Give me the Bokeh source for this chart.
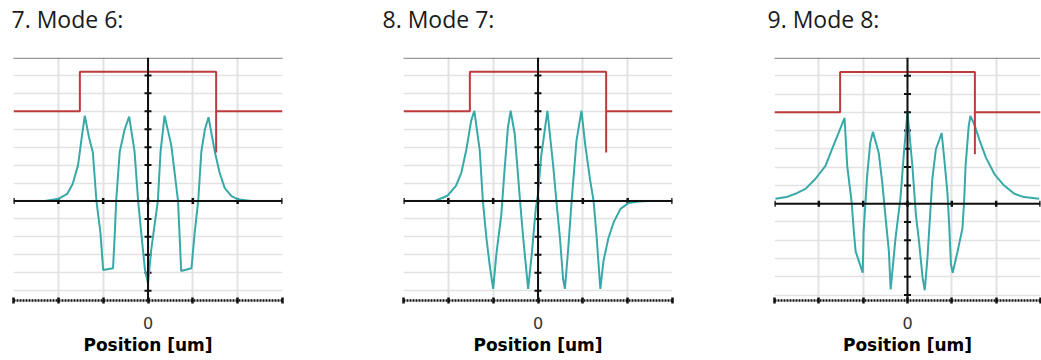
import math

from bokeh.embed import file_html
from bokeh.layouts import row
from bokeh.models import CustomJSTickFormatter, FixedTicker, Span, Title
from bokeh.plotting import figure
from bokeh.resources import INLINE

# ---- chart data -----------------------------------------------------------
titles = ["7. Mode 6:", "8. Mode 7:", "9. Mode 8:"]
x_label = "Position [um]"
x_ticks = [-3, -2, -1, 0, 1, 2, 3]
y_ticks = [-5, -4, -3, -2, -1, 0, 1, 2, 3, 4, 5, 6, 7]
top_level = 8

# refractive-index step profile of the guide (red trace)
index_x = [-3.0, -1.52, -1.52, 1.52, 1.52, 1.52, 3.0]
index_y = [5.0, 5.0, 7.2, 7.2, 2.7, 5.0, 5.0]

# mode field profiles (cyan traces)
mode6_x = [-3.0, -2.3, -2.0, -1.8, -1.68, -1.56, -1.48, -1.41, -1.32, -1.23, -1.15,
           -1.06, -1.0, -0.78, -0.74, -0.71, -0.63, -0.52, -0.42, -0.30, -0.22, -0.15,
           -0.07, 0.0, 0.07, 0.22, 0.28, 0.37, 0.52, 0.67, 0.74, 0.97, 1.04, 1.12,
           1.19, 1.27, 1.35, 1.49, 1.6, 1.71, 1.86, 2.0, 2.3, 3.0]
mode6_y = [0.0, 0.0, 0.12, 0.4, 0.95, 2.0, 3.5, 4.75, 3.6, 2.7, 0.0,
           -1.8, -3.85, -3.75, -1.8, 0.0, 2.75, 4.0, 4.7, 2.75, 0.0, -1.8,
           -3.8, -4.6, -2.75, 0.0, 2.75, 4.76, 3.1, 0.0, -3.9, -3.75, -1.8, 0.0,
           2.75, 4.0, 4.67, 2.75, 1.56, 0.73, 0.27, 0.1, 0.0, 0.0]

mode7_x = [-3.0, -2.3, -2.02, -1.83, -1.71, -1.6, -1.49, -1.42, -1.30, -1.23, -1.15,
           -1.08, -1.0, -0.93, -0.82, -0.74, -0.67, -0.61, -0.52, -0.40, -0.33, -0.22,
           -0.14, -0.05, 0.0, 0.07, 0.21, 0.34, 0.41, 0.49, 0.56, 0.6, 0.67, 0.75,
           0.86, 0.97, 1.05, 1.16, 1.24, 1.31, 1.39, 1.46, 1.57, 1.69, 1.84, 2.02,
           2.25, 2.47, 3.0]
mode7_y = [0.0, 0.0, 0.29, 0.84, 1.57, 2.84, 4.48, 5.03, 2.84, 0.0, -2.08,
           -3.53, -4.9, -2.99, -0.8, 1.93, 4.11, 5.03, 3.75, 0.0, -2.08, -4.9,
           -2.99, -0.44, 0.4, 2.48, 5.03, 1.93, 0.0, -2.08, -4.35, -4.9, -2.8, 0.0,
           3.39, 5.03, 3.2, 1.2, 0.0, -2.08, -4.9, -3.35, -2.08, -1.17, -0.44, -0.11,
           -0.03, 0.0, 0.0]

mode8_x = [-2.98, -2.73, -2.53, -2.3, -2.08, -1.85, -1.7, -1.55, -1.42, -1.36, -1.26,
           -1.21, -1.17, -1.01, -0.99, -0.91, -0.84, -0.78, -0.65, -0.57, -0.5, -0.42,
           -0.38, -0.27, -0.16, -0.08, 0.0, 0.11, 0.19, 0.26, 0.34, 0.39, 0.45, 0.51,
           0.56, 0.64, 0.72, 0.77, 0.83, 0.9, 0.94, 0.98, 1.02, 1.13, 1.24, 1.28,
           1.31, 1.38, 1.42, 1.51, 1.62, 1.77, 1.96, 2.18, 2.41, 2.63, 2.97]
mode8_y = [0.27, 0.36, 0.54, 0.81, 1.35, 2.07, 3.0, 3.9, 4.69, 2.07, 0.09,
           -1.53, -2.61, -3.78, -1.53, 1.53, 3.33, 3.93, 2.79, 1.17, -0.63, -2.61,
           -4.69, -1.89, 0.27, 2.79, 5.0, 2.07, -0.63, -2.07, -4.05, -4.74, -2.97, -0.63,
           1.35, 2.97, 3.51, 3.87, 2.43, 0.63, -1.17, -3.33, -3.78, -2.61, -1.35, 0.27,
           2.07, 4.23, 4.81, 4.32, 3.51, 2.52, 1.62, 0.99, 0.54, 0.36, 0.27]

modes_x = [mode6_x, mode7_x, mode8_x]
modes_y = [mode6_y, mode7_y, mode8_y]

# ---- styling ----------------------------------------------------------------
FIELD_COLOR = "#38a9a9"
INDEX_COLOR = "#bd3a3d"
GRID_COLOR = "#e2e2e2"

# per-panel frame placement: figure width, borders, lower y limit, title shift
frames = [
    dict(width=342, left=13, right=60, top=56, bottom=60, y_lo=-5.55, shift=-2),
    dict(width=371, left=61, right=41, top=57, bottom=57, y_lo=-5.55, shift=-21),
    dict(width=328, left=61, right=1, top=57, bottom=57, y_lo=-5.3, shift=-7),
]


def make_panel(title, xs, ys, fr):
    p = figure(
        width=fr["width"], height=360,
        x_range=(x_ticks[0], x_ticks[-1]), y_range=(fr["y_lo"], top_level),
        output_backend="svg", toolbar_location=None, y_axis_location=None,
        min_border_left=fr["left"], min_border_right=fr["right"],
        min_border_top=fr["top"], min_border_bottom=fr["bottom"],
        title=title,
    )
    p.outline_line_color = None
    p.background_fill_color = "white"
    p.border_fill_color = "white"

    p.title.align = "left"
    p.title.vertical_align = "top"
    p.title.offset = fr["shift"]
    p.title.standoff = 0
    p.title.text_font = "Open Sans"
    p.title.text_font_size = "23px"
    p.title.text_font_style = "normal"
    p.title.text_color = "#1a1a1a"
    # blank band between the heading and the plotting area
    p.add_layout(Title(text=" ", text_font_size="10px", standoff=8), "above")

    # bottom axis: dotted black rule with a single "0" label
    ax = p.xaxis[0]
    ax.ticker = FixedTicker(ticks=x_ticks)
    ax.formatter = CustomJSTickFormatter(code="return tick == 0 ? '0' : '';")
    ax.axis_label = x_label
    ax.axis_label_text_font = "DejaVu Sans"
    ax.axis_label_text_font_style = "bold"
    ax.axis_label_text_font_size = "17px"
    ax.axis_label_text_color = "black"
    ax.axis_label_standoff = 3
    ax.major_label_text_font = "DejaVu Sans"
    ax.major_label_text_font_size = "16px"
    ax.major_label_text_color = "#333333"
    ax.major_label_standoff = 13
    ax.axis_line_color = "#111111"
    ax.axis_line_width = 2.5
    ax.axis_line_dash = "2 1"
    ax.major_tick_line_color = "#111111"
    ax.major_tick_line_width = 2.5
    ax.major_tick_in = 3
    ax.major_tick_out = 3
    ax.minor_tick_line_color = None

    p.xgrid.grid_line_color = GRID_COLOR
    p.xgrid.grid_line_width = 2
    p.ygrid.ticker = FixedTicker(ticks=y_ticks)
    p.ygrid.grid_line_color = GRID_COLOR
    p.ygrid.grid_line_width = 1.6

    # dotted upper rule and the crossing axes through the origin
    p.add_layout(Span(location=top_level - 0.04, dimension="width", line_color="#333333",
                      line_width=1.6, line_dash="1 1"))
    p.add_layout(Span(location=0, dimension="width", line_color="#111111", line_width=2))
    p.add_layout(Span(location=0, dimension="height", line_color="#111111", line_width=2))
    p.scatter(x=[0] * len(y_ticks), y=y_ticks, marker="dash", size=7,
              line_color="#111111", line_width=2)
    p.scatter(x=x_ticks, y=[0] * len(x_ticks), marker="dash", angle=math.pi / 2,
              size=6, line_color="#111111", line_width=2.5)

    p.line(xs, ys, line_color=FIELD_COLOR, line_width=2)
    p.line(index_x, index_y, line_color=INDEX_COLOR, line_width=2)
    return p


panels = [make_panel(t, xs, ys, fr)
          for t, xs, ys, fr in zip(titles, modes_x, modes_y, frames)]
layout = row(*panels, spacing=0)

open("out.html", "w").write(file_html(layout, INLINE))
